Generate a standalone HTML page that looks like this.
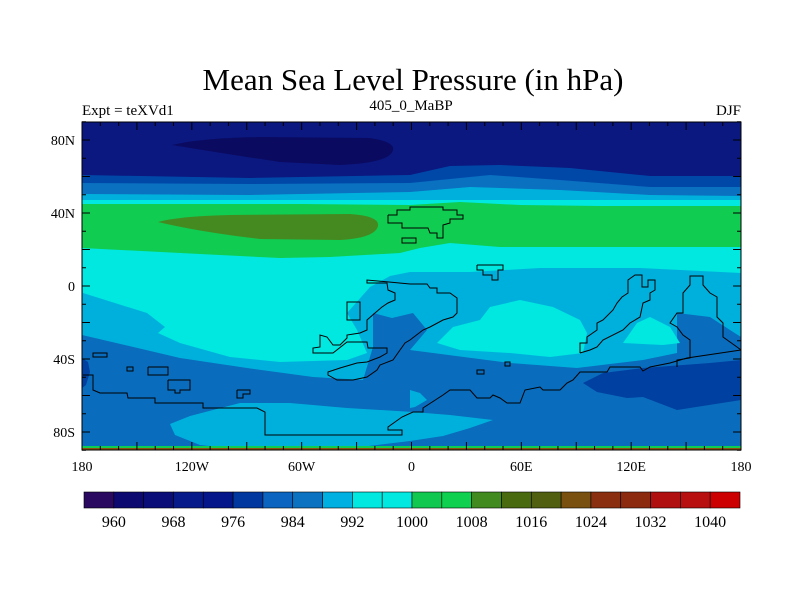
<!DOCTYPE html>
<html><head><meta charset="utf-8"><style>
body{margin:0;background:#fff;}
svg text{font-family:"Liberation Serif",serif;fill:#000;}
</style></head><body>
<svg id="chart" width="800" height="600" viewBox="0 0 800 600" xmlns="http://www.w3.org/2000/svg">
<text x="413" y="90" font-size="31" text-anchor="middle">Mean Sea Level Pressure (in hPa)</text>
<text x="82" y="115" font-size="15">Expt = teXVd1</text>
<text x="411" y="110" font-size="15" text-anchor="middle">405_0_MaBP</text>
<text x="741" y="115" font-size="15" text-anchor="end">DJF</text>
<defs><clipPath id="pc"><rect x="82" y="122" width="659" height="328"/></clipPath></defs>
<g id="map" clip-path="url(#pc)">
<rect x="82" y="122" width="659" height="328" fill="#00b0dc"/>
<path fill="#0a6cbc" d="M82,335 L180,358 L247,368 L313,377 L363,380 L373,347 L373,313 L392,318 L413,313 L427,330 L410,350 L510,363 L577,368 L643,360 L677,353 L677,313 L710,317 L730,330 L741,337 L741,450 L82,450Z"/>
<path fill="#0040a0" d="M583,383 L603,373 L643,368 L710,363 L741,360 L741,400 L677,410 L643,397 L627,398 L597,392Z"/>
<path fill="#0040a0" d="M82,358 L88,362 L90,372 L86,385 L82,388Z"/>
<path fill="#00b0dc" d="M170,424 L190,416 L213,410 L240,403 L290,403 L347,408 L413,412 L450,415 L493,420 L470,428 L443,436 L410,441 L360,447 L240,449 L200,445 L175,435Z"/>
<path fill="#00b0dc" d="M410,390 L420,393 L427,400 L415,407 L410,408Z"/>
<path fill="#00e8e0" d="M82,200 L741,200 L741,273 L640,268 L540,268 L470,272 L410,272 L390,276 L370,287 L347,313 L357,330 L367,353 L347,360 L280,362 L230,357 L180,343 L158,333 L165,327 L147,313 L83,293Z"/>
<path fill="#00e8e0" d="M437,343 L453,327 L480,320 L490,307 L520,300 L553,307 L580,320 L587,333 L583,353 L550,357 L510,353 L460,350Z"/>
<path fill="#00e8e0" d="M623,343 L637,323 L650,317 L670,327 L680,343 L663,345Z"/>
<path fill="#10cc50" d="M82,204 L200,204 L300,204 L410,205 L460,202 L520,205 L600,206 L741,206 L741,247 L600,247 L500,247 L450,243 L420,248 L400,253 L330,257 L280,258 L200,254 L82,248Z"/>
<path fill="#458a20" d="M158,222 Q180,216 230,215 L350,214 Q380,216 378,226 Q375,238 340,240 L260,239 Q200,232 158,222Z"/>
<path fill="#0a70c0" d="M82,122 L741,122 L741,196 L650,195 L560,190 L470,187 L410,192 L250,195 L82,194Z"/>
<path fill="#0048a8" d="M82,122 L741,122 L741,187 L650,187 L560,180 L490,175 L410,183 L250,184 L82,183Z"/>
<path fill="#0a1880" d="M82,122 L741,122 L741,176 L650,176 L570,168 L500,165 L450,166 L410,175 L250,178 L82,175Z"/>
<path fill="#0a0a60" d="M172,145 Q200,138 260,137 L370,138 Q395,142 393,150 Q390,163 340,165 L280,162 Q220,153 172,145Z"/>
<rect x="82" y="446" width="659" height="2" fill="#10cc50"/>
<rect x="82" y="448" width="659" height="2" fill="#8a5010"/>
</g>
<g fill="none" stroke="#000" stroke-width="1" clip-path="url(#pc)">
<polyline points="83,375 93,375 93,390 100,393 127,393 128,398 155,398 155,403 203,403 203,408 257,408 265,412 265,435 402,435 402,430 388,430 388,427 395,422 402,417 413,412 423,412 423,408 443,395 450,390 470,390 477,398 490,398 493,395 500,398 507,403 520,403 525,390 540,387 543,390 560,390 567,383 573,380 580,372 607,372 610,367 640,367 643,371 650,367 670,363 687,358 741,350"/>
<polyline points="410,284 367,280 367,283 387,283 388,290 395,293 395,300 388,303 382,307 375,313 367,320 367,330 360,333 347,335 347,338 340,345 333,345 327,337 320,335 320,347 313,348 313,353 333,353 347,342 367,342 368,348 387,348 387,353 380,357 367,362 357,363 340,368 328,372 328,375 337,380 353,380 367,377 377,370 380,365 393,360 400,350 405,343 410,340 423,330 430,327 443,320 453,317 457,313 457,298 450,293 437,293 437,288 430,288 427,284 410,284"/>
<rect x="347" y="302" width="13" height="18"/>
<rect x="93" y="353" width="14" height="4"/>
<rect x="127" y="367" width="6" height="4"/>
<polyline points="148,367 168,367 168,375 148,375 148,367"/>
<polyline points="168,380 190,380 190,390 180,390 180,393 175,393 175,390 168,390 168,380"/>
<polyline points="237,390 250,390 250,394 243,394 243,398 237,398 237,390"/>
<polyline points="580,353 580,343 587,343 587,337 597,330 597,323 603,320 613,310 617,303 622,297 628,293 628,280 635,275 642,275 642,287 648,287 648,280 655,280 655,290 650,293 650,300 643,303 640,317 630,323 623,330 603,340 597,347 590,350 580,353"/>
<polyline points="677,367 677,360 690,358 690,340 683,335 677,327 670,323 677,313 683,313 683,293 690,285 690,276 703,276 703,285 710,293 717,297 717,317 723,323 723,337 730,342 737,347 741,350"/>
<polyline points="388,215 397,215 397,210 410,210 410,207 443,207 443,210 457,210 457,215 463,215 463,219 450,219 450,223 443,225 443,238 437,238 437,233 430,233 428,228 402,228 402,223 388,223 388,215"/>
<rect x="402" y="238" width="14" height="5"/>
<polyline points="477,265 503,265 503,270 498,270 498,280 492,280 492,275 483,275 483,270 477,270 477,265"/>
<rect x="505" y="362" width="5" height="4"/>
<rect x="477" y="370" width="7" height="4"/>
</g>
<rect x="82" y="122" width="659" height="328" fill="none" stroke="#000" stroke-width="1"/>
<g id="axes"></g>
<g id="colorbar"></g>
<script>
const lonTicks=[-180,-120,-60,0,60,120,180];
const lonLabels=["180","120W","60W","0","60E","120E","180"];
const latTicks=[80,40,0,-40,-80];
const latLabels=["80N","40N","0","40S","80S"];
const levels=[960,964,968,972,976,980,984,988,992,996,1000,1004,1008,1012,1016,1020,1024,1028,1032,1036,1040];
const levelColors=["#2a0a60","#0c0a70","#0a0c78","#061a8a","#04168a","#0038a0","#0a64c0","#0a72c0","#00b0e0","#00e8e0","#00e8e0","#10c850","#10d050","#408a20","#4a6a10","#506010","#7a5010","#8a3010","#8c2a10","#b01010","#b81010","#cc0000"];
const NS="http://www.w3.org/2000/svg";
const xs=lon=>82+(lon+180)*659/360, ys=lat=>286-lat*1.825;
const ax=document.getElementById('axes');
function mk(t,a,p){const e=document.createElementNS(NS,t);for(const k in a)e.setAttribute(k,a[k]);p.appendChild(e);return e;}
for(let lon=-180;lon<=180;lon+=10){const L=lon%30===0?8:4;const x=xs(lon);
 mk('line',{x1:x,x2:x,y1:450,y2:450-L,stroke:'#000'},ax);mk('line',{x1:x,x2:x,y1:122,y2:122+L,stroke:'#000'},ax);}
for(let lat=-90;lat<=90;lat+=10){const L=lat%20===0?8:4;const y=ys(lat);
 mk('line',{x1:82,x2:82+L,y1:y,y2:y,stroke:'#000'},ax);mk('line',{x1:741,x2:741-L,y1:y,y2:y,stroke:'#000'},ax);}
lonTicks.forEach((v,i)=>{const t=mk('text',{x:xs(v),y:471,'font-size':14,'text-anchor':'middle'},ax);t.textContent=lonLabels[i];

});
latTicks.forEach((v,i)=>{const t=mk('text',{x:75,y:ys(v)+5,'font-size':14,'text-anchor':'end'},ax);t.textContent=latLabels[i];

});
const cb=document.getElementById('colorbar');
const cx0=84,cx1=740,cw=(cx1-cx0)/levelColors.length;
levelColors.forEach((c,i)=>{const r=mk('rect',{x:cx0+i*cw,y:492,width:cw,height:16,fill:c,stroke:'#000','stroke-width':0.6},cb);

});
levels.forEach((v,i)=>{if(i%2)return;const t=mk('text',{x:cx0+(i+1)*cw,y:527,'font-size':16,'text-anchor':'middle'},cb);t.textContent=v;

});
</script>
</svg>
</body></html>
